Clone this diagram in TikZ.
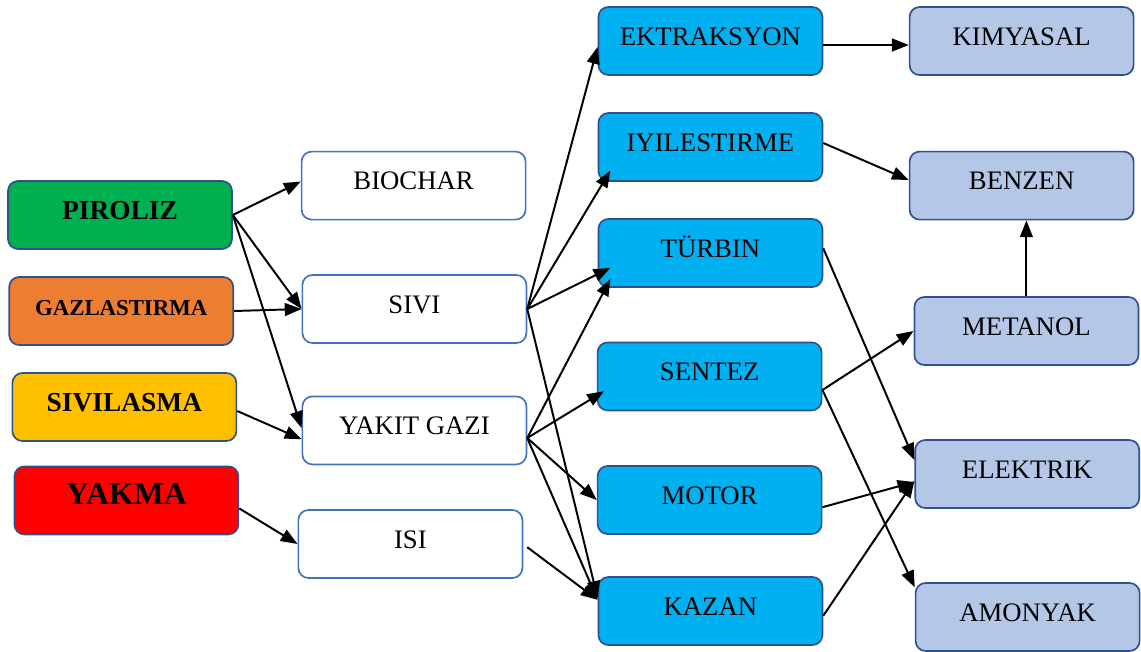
\documentclass[tikz,border=0pt]{standalone}
\usepackage{fontspec}
\setmainfont{Liberation Serif}
\usepackage{xcolor}
\usepackage{tikz}
\usetikzlibrary{arrows.meta, positioning, calc}

\definecolor{pirgreen}{HTML}{00B050}
\definecolor{gazorange}{HTML}{ED7D31}
\definecolor{sivyellow}{HTML}{FFC000}
\definecolor{yakred}{HTML}{FF0000}
\definecolor{techcyan}{HTML}{00B0F0}
\definecolor{prodblue}{HTML}{B4C7E7}
\definecolor{darkedge}{HTML}{2F528F}
\definecolor{midedge}{HTML}{4472C4}

\begin{document}
\begin{tikzpicture}[
    box/.style={rectangle, rounded corners=0.25cm, minimum width=5.6cm, minimum height=1.7cm, align=center, line width=1.2pt, text height=0.5cm, text depth=0.3cm, font=\fontsize{19}{23}\selectfont},
    proc/.style={box, draw=darkedge, font=\fontsize{19.5}{23}\selectfont\bfseries},
    mid/.style={box, draw=midedge, fill=white},
    tech/.style={box, draw=darkedge, fill=techcyan},
    prod/.style={box, draw=darkedge, fill=prodblue},
    arrow/.style={-{Triangle[length=0.42cm, width=0.32cm]}, line width=1.4pt}
]
\useasboundingbox (0,0) rectangle (28.525,-16.275);

% Processes
\node[proc, fill=pirgreen] (piroliz) at (3.0,-5.375) {PIROLIZ};
\node[proc, fill=gazorange, font=\fontsize{16.2}{20}\selectfont\bfseries] (gazlas) at (3.03,-7.775) {GAZLASTIRMA};
\node[proc, fill=sivyellow] (sivilas) at (3.11,-10.175) {SIVILASMA};
\node[proc, fill=yakred, font=\fontsize{22.6}{26}\selectfont\bfseries] (yakma) at (3.16,-12.51) {YAKMA};

% Intermediate products
\node[mid] (biochar) at (10.34,-4.64) {BIOCHAR};
\node[mid] (sivi) at (10.36,-7.725) {SIVI};
\node[mid] (yakit) at (10.36,-10.76) {YAKIT GAZI};
\node[mid] (isi) at (10.26,-13.6) {ISI};

% Technologies
\node[tech] (ektr) at (17.76,-1.025) {EKTRAKSYON};
\node[tech] (iyil) at (17.76,-3.675) {IYILESTIRME};
\node[tech] (turbin) at (17.76,-6.325) {TÜRBIN};
\node[tech] (sentez) at (17.74,-9.41) {SENTEZ};
\node[tech] (motor) at (17.74,-12.5) {MOTOR};
\node[tech] (kazan) at (17.76,-15.275) {KAZAN};

% End products
\node[prod] (kimyasal) at (25.54,-1.025) {KIMYASAL};
\node[prod] (benzen) at (25.54,-4.64) {BENZEN};
\node[prod] (metanol) at (25.66,-8.275) {METANOL};
\node[prod] (elektrik) at (25.68,-11.85) {ELEKTRIK};
\node[prod] (amonyak) at (25.69,-15.425) {AMONYAK};

% Process arrows
\draw[arrow] (piroliz.east) -- ([yshift=0.1cm]biochar.west);
\draw[arrow] (piroliz.east) -- (sivi.west);
\draw[arrow] (piroliz.east) -- ([yshift=0.06cm]yakit.west);
\draw[arrow] (gazlas.east) -- (sivi.west);
\draw[arrow] ([yshift=-0.1cm]sivilas.east) -- ([yshift=-0.22cm]yakit.west);
\draw[arrow] ([yshift=-0.2cm]yakma.east) -- (isi.west);

% From SIVI
\draw[arrow] (sivi.east) -- ([yshift=-0.15cm]ektr.west);
\draw[arrow] (sivi.east) -- ([shift={(0.32,0.28)}]iyil.south west);
\draw[arrow] (sivi.east) -- ([shift={(0.32,0.5)}]turbin.south west);
\draw[arrow] (sivi.east) -- ([yshift=0.33cm]kazan.west);

% From YAKIT GAZI
\draw[arrow] ([yshift=-0.19cm]yakit.east) -- ([shift={(0.32,0.22)}]turbin.south west);
\draw[arrow] ([yshift=-0.19cm]yakit.east) -- ([shift={(0.18,0.5)}]sentez.south west);
\draw[arrow] ([yshift=-0.19cm]yakit.east) -- (motor.west);
\draw[arrow] ([yshift=-0.19cm]yakit.east) -- ([yshift=0.28cm]kazan.west);

% From ISI
\draw[arrow] ([shift={(0.1,-0.08)}]isi.east) -- ([yshift=0.28cm]kazan.west);

% To end products
\draw[arrow] ([yshift=-0.1cm]ektr.east) -- ([yshift=-0.1cm]kimyasal.west);
\draw[arrow] ([yshift=0.1cm]iyil.east) -- ([yshift=0.14cm]benzen.west);
\draw[arrow] ([yshift=0.12cm]turbin.east) -- ([yshift=0.35cm]elektrik.west);
\draw[arrow] ([yshift=-0.34cm]sentez.east) -- (metanol.west);
\draw[arrow] ([yshift=-0.34cm]sentez.east) -- ([yshift=-0.13cm]amonyak.north west);
\draw[arrow] ([yshift=-0.18cm]motor.east) -- ([yshift=-0.2cm]elektrik.west);
\draw[arrow] ([yshift=-0.12cm]kazan.east) -- ([yshift=-0.17cm]elektrik.west);
\draw[arrow] (metanol.north) -- (metanol.north |- benzen.south);

\end{tikzpicture}
\end{document}
